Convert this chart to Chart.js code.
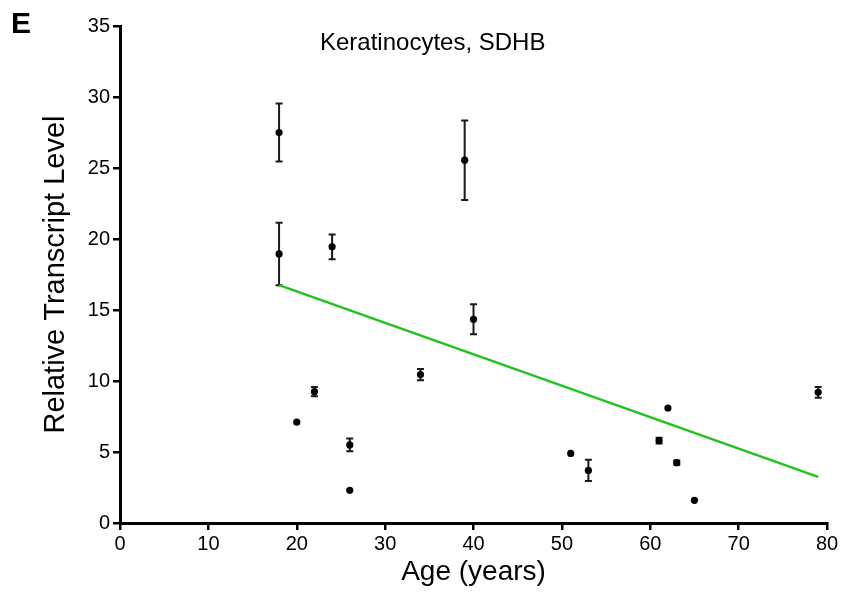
<!DOCTYPE html>
<html>
<head>
<meta charset="utf-8">
<script src="https://cdn.jsdelivr.net/npm/chart.js@4"></script>
<style>
  html, body { margin: 0; padding: 0; background: #fff; }
  #wrap { width: 844px; height: 596px; }
</style>
</head>
<body>
<div id="wrap"><canvas id="chart" width="844" height="596"></canvas></div>
<script>
// donor age vs. SDHB transcript level (mean ± SEM per donor)
const ages   = [18, 18, 20, 22, 24, 26, 26, 34, 39, 40, 51, 53, 61, 62, 63, 65, 79];
const levels = [27.5, 18.95, 7.1, 9.25, 19.45, 5.5, 2.3, 10.45, 25.55, 14.35, 4.9, 3.7, 5.8, 8.1, 4.25, 1.6, 9.2];
const sem    = [2.05, 2.2, 0, 0.33, 0.87, 0.45, 0, 0.4, 2.8, 1.05, 0, 0.75, 0.2, 0, 0.15, 0, 0.38];

// linear regression end points
const fitAges   = [18, 79];
const fitLevels = [16.75, 3.25];

const xTicks = [0, 10, 20, 30, 40, 50, 60, 70, 80];
const yTicks = [0, 5, 10, 15, 20, 25, 30, 35];

const FONT = "Arial, 'Liberation Sans', Helvetica, sans-serif";

const errorBars = {
  id: "errorBars",
  beforeDatasetsDraw(chart) {
    const { ctx, scales: { x, y } } = chart;
    ctx.save();
    ctx.strokeStyle = "#1a1a1a";
    ctx.lineWidth = 2;
    ages.forEach((a, i) => {
      if (!sem[i]) return;
      const px = x.getPixelForValue(a);
      const top = y.getPixelForValue(levels[i] + sem[i]);
      const bot = y.getPixelForValue(levels[i] - sem[i]);
      ctx.beginPath();
      ctx.moveTo(px, top); ctx.lineTo(px, bot);
      ctx.moveTo(px - 3.5, top); ctx.lineTo(px + 3.5, top);
      ctx.moveTo(px - 3.5, bot); ctx.lineTo(px + 3.5, bot);
      ctx.stroke();
    });
    ctx.restore();
  }
};

const labels = {
  id: "labels",
  afterDraw(chart) {
    const { ctx } = chart;
    ctx.save();
    ctx.fillStyle = "#000";
    ctx.textBaseline = "alphabetic";
    ctx.font = `bold 30px ${FONT}`;
    ctx.fillText("E", 11, 33);
    ctx.font = `24px ${FONT}`;
    ctx.fillText("Keratinocytes, SDHB", 320, 50);
    ctx.restore();
  }
};

new Chart(document.getElementById("chart"), {
  type: "scatter",
  data: {
    datasets: [
      {
        type: "line",
        data: fitAges.map((a, i) => ({ x: a, y: fitLevels[i] })),
        borderColor: "#20c41c",
        borderWidth: 2.6,
        pointRadius: 0,
        fill: false
      },
      {
        data: ages.map((a, i) => ({ x: a, y: levels[i] })),
        backgroundColor: "#000",
        borderWidth: 0,
        pointRadius: 3.6
      }
    ]
  },
  options: {
    responsive: false,
    animation: false,
    devicePixelRatio: 1,
    layout: { padding: { left: 0, top: 26, right: 17, bottom: 0 } },
    plugins: { legend: { display: false }, tooltip: { enabled: false } },
    scales: {
      x: {
        type: "linear", min: 0, max: 80,
        afterBuildTicks: s => { s.ticks = xTicks.map(v => ({ value: v })); },
        afterFit: s => { s.height = 73; },
        border: { display: true, color: "#000", width: 3 },
        grid: { drawOnChartArea: false, drawTicks: true, tickLength: 7, color: "#000", lineWidth: 2.5 },
        ticks: { color: "#000", padding: 2, font: { family: FONT, size: 20 } },
        title: { display: true, text: "Age (years)", color: "#000", padding: { top: 0, bottom: 7 }, font: { family: FONT, size: 28 } }
      },
      y: {
        type: "linear", min: 0, max: 35,
        afterBuildTicks: s => { s.ticks = yTicks.map(v => ({ value: v })); },
        afterFit: s => { s.width = 120; },
        border: { display: true, color: "#000", width: 3 },
        grid: { drawOnChartArea: false, drawTicks: true, tickLength: 7, color: "#000", lineWidth: 2.5 },
        ticks: { color: "#000", padding: 3, font: { family: FONT, size: 20 } },
        title: { display: true, text: "Relative Transcript Level", color: "#000", padding: { top: 39, bottom: 0 }, font: { family: FONT, size: 29 } }
      }
    }
  },
  plugins: [errorBars, labels]
});
</script>
</body>
</html>
